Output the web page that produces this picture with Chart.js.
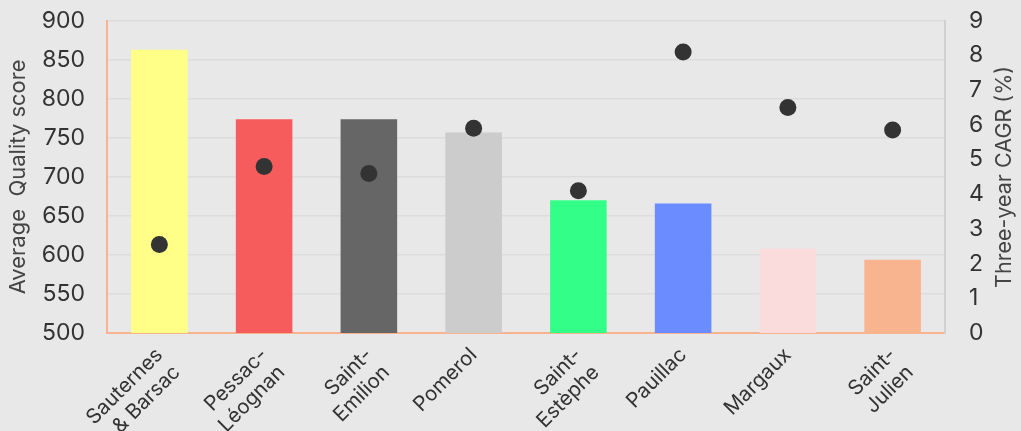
<!DOCTYPE html>
<html><head><meta charset="utf-8">
<script src="https://cdn.jsdelivr.net/npm/chart.js@4"></script>
<style>html,body{margin:0;padding:0;background:#e8e8e8;overflow:hidden;}#wrap{width:1021px;height:431px;overflow:hidden;position:relative;}#c{position:absolute;left:0;top:-17px;}</style>
</head><body><div id="wrap"><canvas id="c" width="1021" height="448"></canvas></div>
<script>
const categories = [["Sauternes","& Barsac"],["Pessac-","Léognan"],["Saint-","Emilion"],"Pomerol",["Saint-","Estèphe"],"Pauillac","Margaux",["Saint-","Julien"]];
const qualityScores = [863, 774, 774, 757, 670, 666, 608, 594];
const cagrValues = [2.55, 4.8, 4.6, 5.9, 4.1, 8.1, 6.5, 5.85];
const barColors = ["#ffff88","#f75c5c","#666666","#cccccc","#33ff88","#6b8cff","#fbdcdc","#f8b48e"];
const leftTitle = "Average  Quality score";
const rightTitle = "Three-year CAGR (%)";

const FONT = "Inter, 'Open Sans', sans-serif";
Chart.defaults.font.family = FONT;
Chart.defaults.color = "#333333";

const titlePlugin = {
  id: 'rightTitle',
  afterDraw(chart) {
    const ctx = chart.ctx, a = chart.chartArea;
    ctx.save();
    ctx.fillStyle = '#444444';
    ctx.font = "21.5px " + FONT;
    ctx.textAlign = 'center';
    ctx.textBaseline = 'middle';
    ctx.translate(1005, (a.top + a.bottom) / 2);
    ctx.rotate(-Math.PI / 2);
    ctx.fillText(rightTitle, 0, 0);
    ctx.restore();
  }
};

new Chart(document.getElementById('c'), {
  data: {
    labels: categories,
    datasets: [
      { type: 'line', label: 'CAGR', data: cagrValues, yAxisID: 'y2', showLine: false,
        pointRadius: 8.5, pointHoverRadius: 8.5, pointBackgroundColor: '#333333', pointBorderWidth: 0, order: 0 },
      { type: 'bar', label: 'Quality', data: qualityScores, yAxisID: 'y', backgroundColor: barColors,
        barPercentage: 0.54, categoryPercentage: 1.0, order: 1 }
    ]
  },
  plugins: [titlePlugin],
  options: {
    responsive: false,
    animation: false,
    layout: { padding: { left: 0, right: 0, top: 0, bottom: 0 } },
    plugins: { legend: { display: false }, tooltip: { enabled: false } },
    scales: {
      x: {
        grid: { display: false },
        border: { color: '#f8b48e', width: 2 },
        ticks: { maxRotation: 45, minRotation: 45, font: { size: 20.5 }, color: '#333333', padding: 2 },
        afterFit(s) { s.height = 98; }
      },
      y: {
        position: 'left', min: 500, max: 900,
        ticks: { stepSize: 50, font: { size: 23 }, color: '#333333', padding: 22 },
        grid: { color: '#dcdcdc', lineWidth: 1.5, drawTicks: false },
        border: { color: '#f8b48e', width: 2 },
        title: { display: true, text: leftTitle, font: { size: 22 }, color: '#444444', padding: { top: 5, bottom: 0 } },
        afterFit(s) { s.width = 107; }
      },
      y2: {
        position: 'right', min: 0, max: 9,
        ticks: { stepSize: 1, font: { size: 23 }, color: '#333333', padding: 24 },
        grid: { display: false, drawTicks: false },
        border: { color: '#d0d0d0', width: 2 },
        afterFit(s) { s.width = 76; }
      }
    }
  }
});
</script></body></html>
